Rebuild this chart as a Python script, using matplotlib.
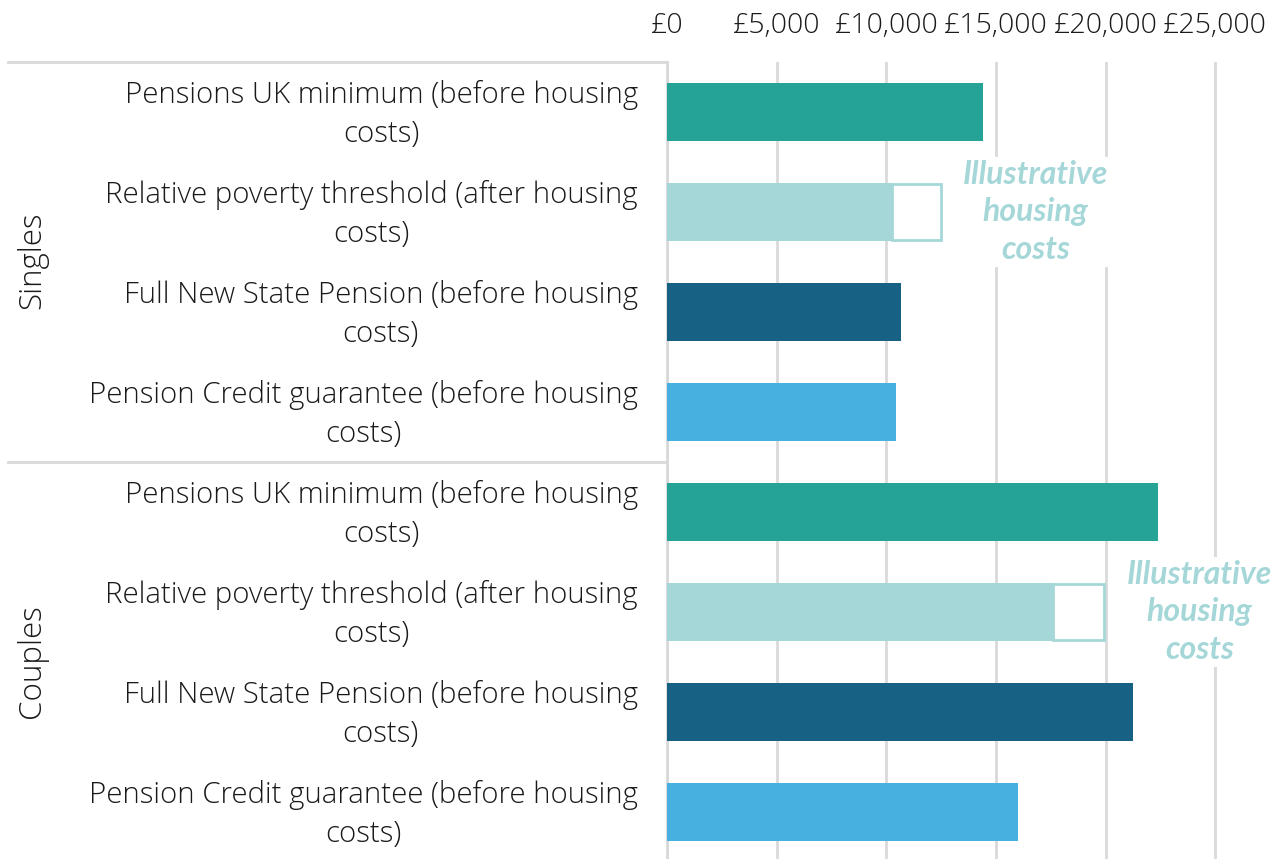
import matplotlib.pyplot as plt
from matplotlib.lines import Line2D
from matplotlib.transforms import ScaledTranslation

plt.rcParams['font.family'] = ['Open Sans', 'DejaVu Sans']

labels = [
    "Pensions UK minimum (before housing\ncosts)",
    "Relative poverty threshold (after housing\ncosts)",
    "Full New State Pension (before housing\ncosts)",
    "Pension Credit guarantee (before housing\ncosts)",
] * 2
groups = ["Singles", "Couples"]
values = [14400, 10250, 10650, 10450, 22400, 17600, 21250, 16000]
housing_total = [None, 12500, None, None, None, 19950, None, None]
ticks = [0, 5000, 10000, 15000, 20000, 25000]
tick_labels = ["£0", "£5,000", "£10,000", "£15,000", "£20,000", "£25,000"]

colors = ["#26a397", "#a5d7d8", "#176184", "#47b0e0"] * 2
light = "#a5d7d8"
grid = "#d9d9d9"
txt = "#1a1a1a"

fig = plt.figure(figsize=(12.82, 8.59), dpi=100)
ax = fig.add_axes([667 / 1282, -3 / 859, 615 / 1282, 800 / 859])

rows = list(range(len(values)))
ax.barh(rows, values, height=0.58, color=colors, zorder=3)
for i, tot in enumerate(housing_total):
    if tot is not None:
        ax.barh(i, tot - values[i], left=values[i], height=0.56,
                color="white", edgecolor=light, linewidth=2, zorder=3)

ax.set_xlim(0, 28050)
ax.set_ylim(7.5, -0.5)
ax.set_xticks(ticks)
ax.set_xticklabels(tick_labels, fontsize=20.5, color=txt, fontweight="light")
ax.xaxis.tick_top()
ax.tick_params(axis="x", length=0, pad=16)
ax.grid(axis="x", color=grid, linewidth=2, zorder=0)
ax.set_yticks(rows)
ax.set_yticklabels(labels, fontsize=21.2, color=txt, fontweight="light")
ax.tick_params(axis="y", length=0, pad=21)
shift = ScaledTranslation(0, -2.5 / 100, fig.dpi_scale_trans)
for t in ax.get_yticklabels():
    t.set_multialignment("center")
    t.set_linespacing(1.38)
    t.set_verticalalignment("center")
    t.set_transform(t.get_transform() + shift)
for s in ["top", "right", "bottom"]:
    ax.spines[s].set_visible(False)
ax.spines["left"].set_color(grid)
ax.spines["left"].set_linewidth(2)

for x, y in [(16800, 1), (24300, 5)]:
    ax.text(x, y, "Illustrative\nhousing\ncosts", ha="center", va="center",
            fontsize=23, fontweight="bold", style="italic", color=light,
            family=["Lato", "DejaVu Sans"], linespacing=1.37, zorder=4,
            bbox=dict(facecolor="white", edgecolor="none", pad=2))

for yy in [62, 462]:
    fig.add_artist(Line2D([8 / 1282, 667 / 1282], [1 - yy / 859] * 2,
                          transform=fig.transFigure, color=grid, linewidth=2))

for g, yy in zip(groups, [260, 661]):
    fig.text(32 / 1282, 1 - yy / 859, g, rotation=90, ha="center", va="center",
             fontsize=22.5, color=txt, fontweight="light")

fig.savefig("out.png", dpi=100)
